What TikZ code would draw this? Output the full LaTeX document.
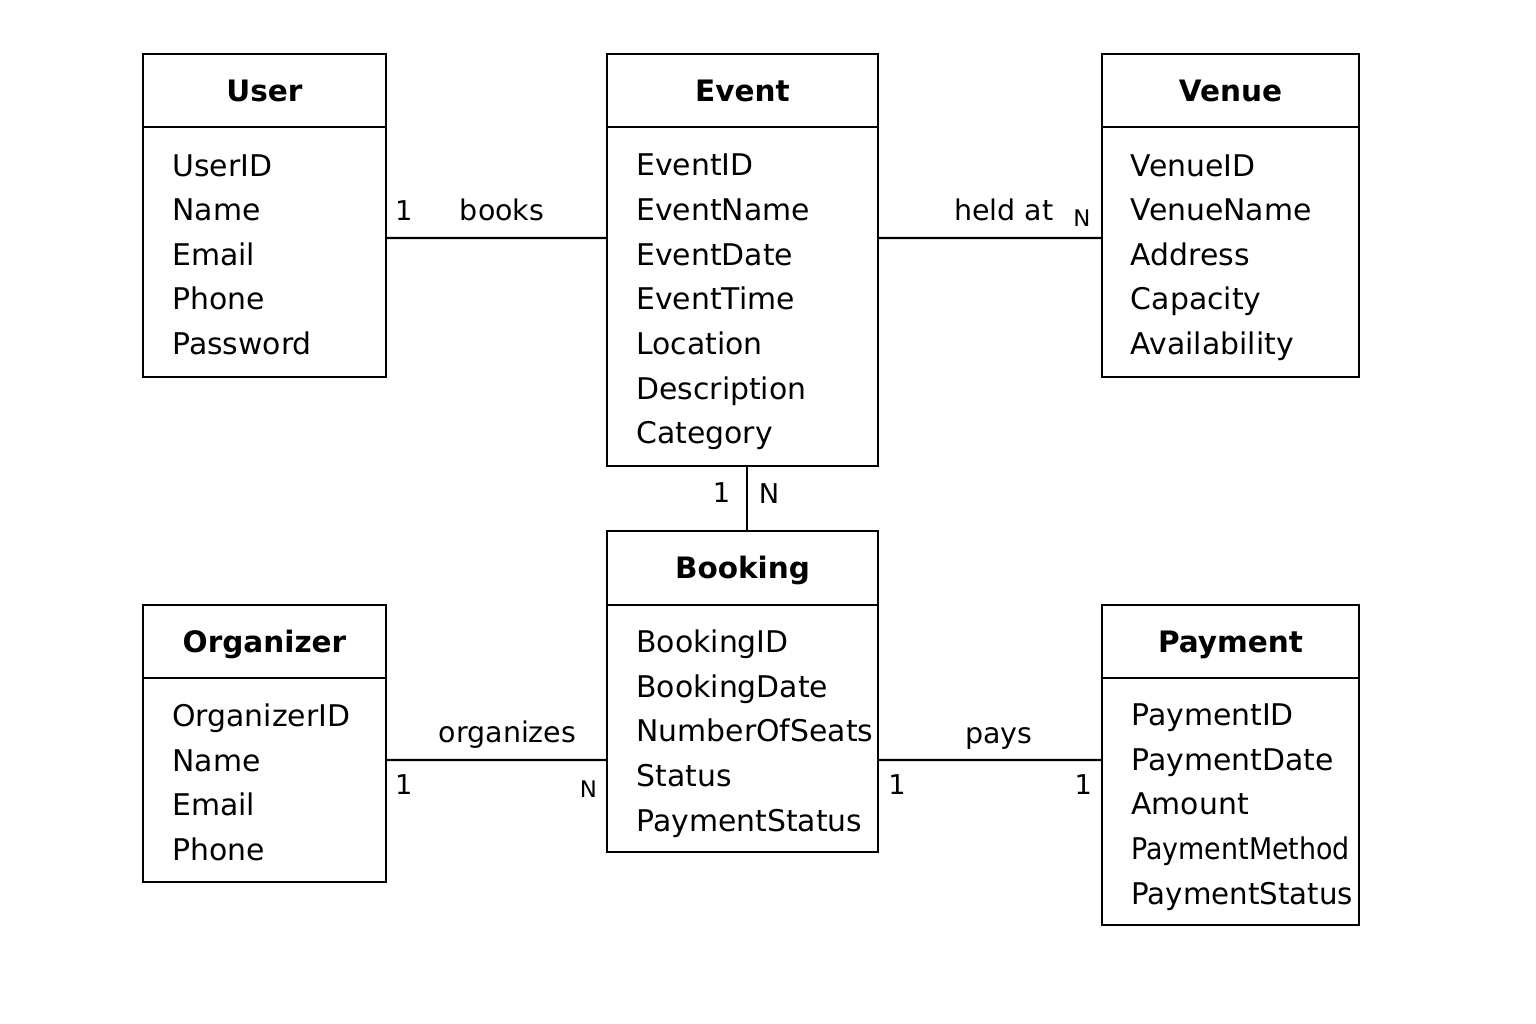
\documentclass[tikz,border=0pt]{standalone}
\usepackage{fontspec}
\setmainfont{DejaVu Sans}
\usepackage{graphicx}
\usetikzlibrary{positioning}
\tikzstyle{head}=[rectangle,draw,line width=1.4pt,outer sep=0pt,
font=\fontsize{16.8}{20}\selectfont\bfseries,text height=12pt,text depth=0pt]
\tikzstyle{body}=[rectangle,draw,line width=1.4pt,outer sep=0pt]
\tikzstyle{attrs}=[align=left,inner sep=0pt,font=\fontsize{17}{25.4}\selectfont]
\tikzstyle{lbl}=[inner sep=0pt,font=\fontsize{16.2}{19}\selectfont,text height=11.8pt,text depth=0pt]
\tikzstyle{card}=[inner sep=0pt,font=\fontsize{15.5}{18}\selectfont,text height=11.3pt,text depth=0pt]
\tikzstyle{cardsm}=[inner sep=0pt,font=\fontsize{13}{15}\selectfont,text height=9.5pt,text depth=0pt]
\tikzstyle{conn}=[line width=1.3pt]
\newcommand{\fld}{\rule[-5.1pt]{0pt}{25.4pt}}

\begin{document}
\begin{tikzpicture}[x=0.02cm,y=-0.02cm]
            \useasboundingbox (0,0) rectangle (1536,1024);

            % TOP ROW

            \node[head,minimum width=4.86cm,minimum height=1.46cm] (userhead) at (264.5,90.5) {User};
            \node[body,minimum width=4.86cm,minimum height=5cm,below=0pt of userhead] (userbody) {};
            \node[attrs,right=0.58cm of userbody.west] (userattrs)
                {\fld UserID\\\fld Name\\\fld Email\\\fld Phone\\\fld Password};

            \node[head,minimum width=5.42cm,minimum height=1.46cm] (eventhead) at (742.5,90.5) {Event};
            \node[body,minimum width=5.42cm,minimum height=6.78cm,below=0pt of eventhead] (eventbody) {};
            \node[attrs,right=0.58cm of eventbody.west] (eventattrs)
                {\fld EventID\\\fld EventName\\\fld EventDate\\\fld EventTime\\\fld Location\\\fld Description\\\fld Category};

            \node[head,minimum width=5.14cm,minimum height=1.46cm] (venuehead) at (1230.5,90.5) {Venue};
            \node[body,minimum width=5.14cm,minimum height=5cm,below=0pt of venuehead] (venuebody) {};
            \node[attrs,right=0.57cm of venuebody.west] (venueattrs)
                {\fld VenueID\\\fld VenueName\\\fld Address\\\fld Capacity\\\fld Availability};

            % BOTTOM ROW

            \node[head,minimum width=5.42cm,minimum height=1.48cm] (bookhead) at (742.5,568) {Booking};
            \node[body,minimum width=5.42cm,minimum height=4.94cm,below=0pt of bookhead] (bookbody) {};
            \node[attrs,right=0.58cm of bookbody.west] (bookattrs)
                {\fld BookingID\\\fld BookingDate\\\fld NumberOfSeats\\\fld Status\\\fld PaymentStatus};

            \node[head,minimum width=4.86cm,minimum height=1.46cm] (orghead) at (264.5,641.5) {Organizer};
            \node[body,minimum width=4.86cm,minimum height=4.08cm,below=0pt of orghead] (orgbody) {};
            \node[attrs,right=0.58cm of orgbody.west] (orgattrs)
                {\fld OrganizerID\\\fld Name\\\fld Email\\\fld Phone};

            \node[head,minimum width=5.14cm,minimum height=1.46cm] (payhead) at (1230.5,641.5) {Payment};
            \node[body,minimum width=5.14cm,minimum height=4.94cm,below=0pt of payhead] (paybody) {};
            \node[attrs,right=0.58cm of paybody.west] (payattrs)
                {\fld PaymentID\\\fld PaymentDate\\\fld Amount\\\fld \scalebox{0.9}[1]{PaymentMethod}\\\fld \scalebox{0.98}[1]{PaymentStatus}};

            % Relationships

            \path[conn] ([yshift=0.28cm]userbody.east) edge
                node[card,pos=0.081,yshift=0.54cm] {1}
                node[lbl,pos=0.525,yshift=0.55cm] {books} ([yshift=1.17cm]eventbody.west);
            \path[conn] ([yshift=1.17cm]eventbody.east) edge
                node[lbl,pos=0.5625,yshift=0.55cm] {held at}
                node[cardsm,pos=0.91,yshift=0.4cm] {N} ([yshift=0.28cm]venuebody.west);
            \path[conn] ([xshift=0.09cm]eventbody.south) edge
                node[card,pos=0.415,xshift=-0.51cm] {1}
                node[card,pos=0.43,xshift=0.44cm] {N} ([xshift=0.09cm]bookhead.north);
            \path[conn] ([yshift=0.4cm]orgbody.east) edge
                node[lbl,pos=0.55,yshift=0.55cm] {organizes}
                node[card,pos=0.08,yshift=-0.5cm] {1}
                node[cardsm,pos=0.916,yshift=-0.59cm] {N} ([yshift=-0.63cm]bookbody.west);
            \path[conn] ([yshift=-0.63cm]bookbody.east) edge
                node[lbl,pos=0.54,yshift=0.53cm] {pays}
                node[card,pos=0.085,yshift=-0.5cm] {1}
                node[card,pos=0.916,yshift=-0.5cm] {1} ([yshift=0.83cm]paybody.west);

\end{tikzpicture}
\end{document}
